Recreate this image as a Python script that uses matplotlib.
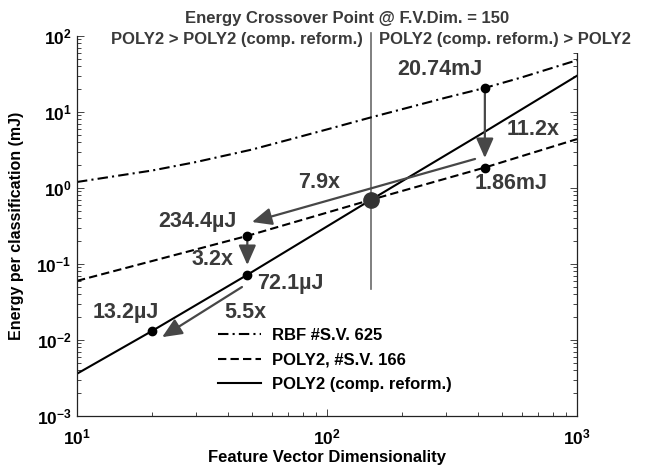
import matplotlib

matplotlib.use("Agg")
import matplotlib.pyplot as plt

plt.rcParams["font.family"] = ["Liberation Sans", "DejaVu Sans"]
plt.rcParams["font.weight"] = "bold"
plt.rcParams["axes.labelweight"] = "bold"
plt.rcParams["mathtext.fontset"] = "custom"
plt.rcParams["mathtext.rm"] = "Liberation Sans:bold"
plt.rcParams["mathtext.bf"] = "Liberation Sans:bold"
plt.rcParams["mathtext.default"] = "rm"

# values (mJ per classification)
RBF_DIM = [10, 20, 30, 50, 70, 100, 150, 200, 300, 428, 600, 1000]
RBF_MJ = [1.2, 1.7, 2.2, 3.2, 4.3, 5.9, 8.5, 10.9, 15.5, 20.74, 28.5, 48.0]

POLY_DIM = [10, 48, 150, 428, 1000]
POLY_MJ = [0.06, 0.2344, 0.70, 1.86, 4.4]

REFORM_DIM = [10, 20, 48, 150, 428, 1000]
REFORM_MJ = [0.0036, 0.0132, 0.0721, 0.70, 5.5, 30.0]

CROSSOVER_DIM = 150
CROSSOVER_MJ = 0.70
CROSSOVER_SPAN = [0.047, 110]

DOT_DIM = [428, 428, 48, 48, 20]
DOT_MJ = [20.74, 1.86, 0.2344, 0.0721, 0.0132]

# (start, tip) of the grey arrows
ARROWS = [
    ((428, 20.74), (428, 2.48)),
    ((391, 2.41), (50.1, 0.357)),
    ((48, 0.22), (48, 0.097)),
    ((45.7, 0.0498), (21.9, 0.0109)),
]

NOTES = [
    ("20.74mJ", 283, 35.7),
    ("11.2x", 667, 5.8),
    ("1.86mJ", 545, 1.16),
    ("7.9x", 93, 1.18),
    ("234.4\u00b5J", 30.2, 0.357),
    ("3.2x", 34.7, 0.113),
    ("72.1\u00b5J", 71.1, 0.0562),
    ("5.5x", 47, 0.0227),
    ("13.2\u00b5J", 15.6, 0.0227),
]

ARROW_COLOR = "#474747"
NOTE_COLOR = "#3a3a3a"


def plot_chart():
    fig = plt.figure(figsize=(6.46, 4.69), dpi=100)
    fig.patch.set_facecolor("white")
    ax = fig.add_axes([77 / 646, 53 / 469, 500 / 646, 380 / 469])

    ax.plot(RBF_DIM, RBF_MJ, color="black", lw=1.5, linestyle=(0, (5, 2, 1, 2)),
            label="RBF #S.V. 625")
    ax.plot(POLY_DIM, POLY_MJ, color="black", lw=1.5, linestyle=(0, (4, 2)),
            label="POLY2, #S.V. 166")
    ax.plot(REFORM_DIM, REFORM_MJ, color="black", lw=1.5,
            label="POLY2 (comp. reform.)")

    ax.plot([CROSSOVER_DIM, CROSSOVER_DIM], CROSSOVER_SPAN, color="#6a6a6a",
            lw=1.2, clip_on=False, zorder=1)

    for (x0, y0), (x1, y1) in ARROWS:
        ax.annotate("", xy=(x1, y1), xytext=(x0, y0),
                    arrowprops=dict(arrowstyle="-|>,head_length=0.5,head_width=0.22",
                                    color=ARROW_COLOR, lw=1.6, mutation_scale=24,
                                    shrinkA=0, shrinkB=0), zorder=4)

    ax.plot(DOT_DIM, DOT_MJ, "o", color="black", markersize=6, zorder=5)
    ax.plot([CROSSOVER_DIM], [CROSSOVER_MJ], "o", color="#333333", markersize=11,
            zorder=5)

    for text, x, y in NOTES:
        ax.text(x, y, text, fontsize=15.5, color=NOTE_COLOR, ha="center",
                va="center")

    ax.annotate("POLY2 > POLY2 (comp. reform.)", xy=(CROSSOVER_DIM, 91),
                xytext=(-6, 0), textcoords="offset points", ha="right",
                va="center", fontsize=12, color=NOTE_COLOR, annotation_clip=False)
    ax.annotate("POLY2 (comp. reform.) > POLY2", xy=(CROSSOVER_DIM, 91),
                xytext=(6, 0), textcoords="offset points", ha="left",
                va="center", fontsize=12, color=NOTE_COLOR, annotation_clip=False,
                bbox=dict(facecolor="white", edgecolor="none", pad=4.5),
                zorder=6)
    fig.text(347 / 646, 1 - 18 / 469, "Energy Crossover Point @ F.V.Dim. = 150",
             ha="center", va="center", fontsize=12, color=NOTE_COLOR)

    ax.set_xscale("log")
    ax.set_yscale("log")
    ax.set_xlim(10, 1000)
    ax.set_ylim(1e-3, 1e2)

    ax.spines["top"].set_visible(False)
    for side in ("left", "right", "bottom"):
        ax.spines[side].set_color("#222222")
        ax.spines[side].set_linewidth(0.9)

    ax.tick_params(which="both", direction="in", right=True, top=False,
                   color="#444444", width=0.7)
    ax.tick_params(which="major", length=5)
    ax.tick_params(which="minor", length=3)
    ax.tick_params(axis="x", labelsize=12.5, pad=8)
    ax.tick_params(axis="y", labelsize=12.5, pad=4)

    ax.set_xlabel("Feature Vector Dimensionality", fontsize=12, labelpad=2)
    ax.set_ylabel("Energy per classification (mJ)", fontsize=11.5)
    ax.yaxis.set_label_coords(-0.105, 0.5)

    ax.legend(loc="upper left", bbox_to_anchor=(218 / 646, 1 - 328 / 469),
              bbox_transform=fig.transFigure, frameon=False, fontsize=12,
              borderpad=0, borderaxespad=0, handlelength=2.6,
              handletextpad=0.65, labelspacing=0.57)

    fig.savefig("out.png", dpi=100)
    plt.close(fig)


if __name__ == "__main__":
    plot_chart()
